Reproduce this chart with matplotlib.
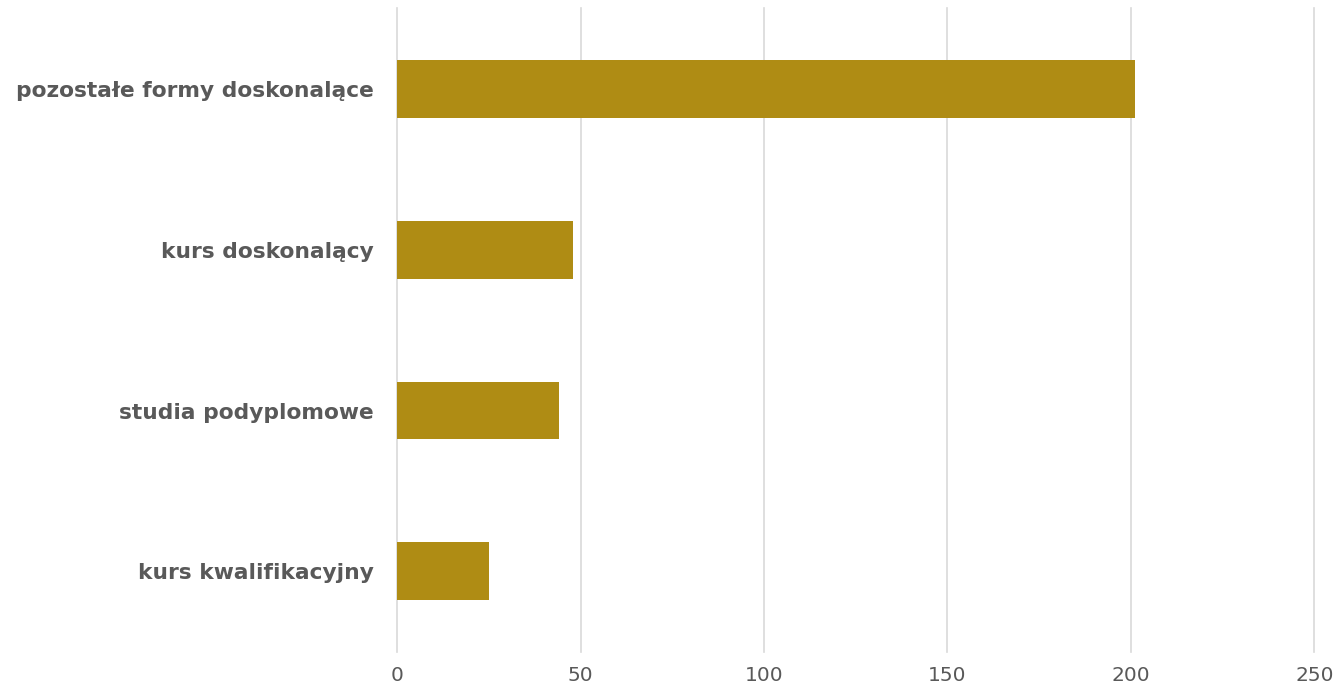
import numpy as np
import matplotlib.pyplot as plt

categories = ['kurs kwalifikacyjny', 'studia podyplomowe', 'kurs doskonalący', 'pozostałe formy doskonalące']
values = [25, 44, 48, 201]
xticks = [0, 50, 100, 150, 200, 250]

fig = plt.figure(figsize=(13.37, 6.92), dpi=100)
ax = fig.add_axes([0.297, 0.058, 0.686, 0.93])

y = np.arange(len(categories))
ax.barh(y, values, height=0.36, color='#AF8C14', zorder=2)

ax.set_xlim(0, 250)
ax.set_ylim(-0.5, 3.5)
ax.set_xticks(xticks)
ax.set_yticks(y)
ax.set_yticklabels(categories, fontsize=15.7, fontweight='bold', color='#595959')
ax.tick_params(axis='x', labelsize=14.5, labelcolor='#595959', length=0, pad=10)
ax.tick_params(axis='y', length=0, pad=17)
for t in xticks:
    ax.axvline(t, color='#D9D9D9', linewidth=1.2, zorder=0, clip_on=False)
for s in ax.spines.values():
    s.set_visible(False)

fig.savefig('out.png', dpi=100)
